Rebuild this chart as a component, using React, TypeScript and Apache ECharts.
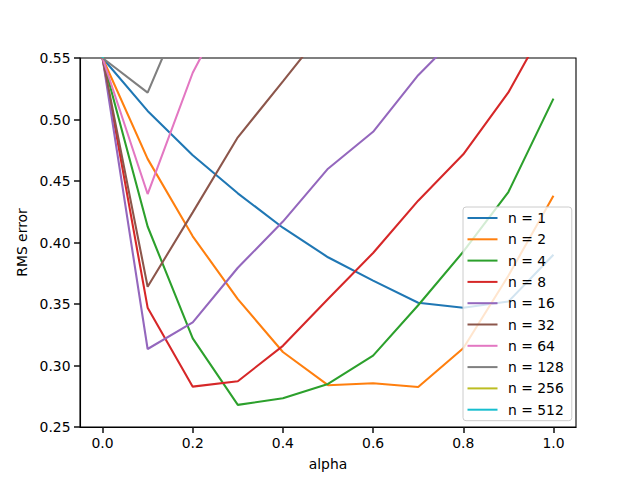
import React, { useEffect, useRef } from "react";
import * as echarts from "echarts";

const alphas = [0, 0.1, 0.2, 0.3, 0.4, 0.5, 0.6, 0.7, 0.8, 0.9, 1.0];
const seriesNames = ["n = 1", "n = 2", "n = 4", "n = 8", "n = 16", "n = 32", "n = 64", "n = 128", "n = 256", "n = 512"];
const n1 = [0.55, 0.507, 0.471, 0.44, 0.412, 0.388, 0.369, 0.351, 0.347, 0.352, 0.39];
const n2 = [0.55, 0.468, 0.405, 0.354, 0.311, 0.284, 0.2855, 0.2825, 0.314, 0.373, 0.438];
const n4 = [0.55, 0.413, 0.322, 0.268, 0.2733, 0.285, 0.308, 0.349, 0.3925, 0.441, 0.517];
const n8 = [0.55, 0.347, 0.2828, 0.2872, 0.316, 0.354, 0.3915, 0.434, 0.4717, 0.522, 0.588];
const n16 = [0.55, 0.3134, 0.335, 0.3795, 0.417, 0.46, 0.49, 0.536, 0.573, 0.61, 0.65];
const n32 = [0.55, 0.364, 0.4245, 0.4855, 0.531, 0.577, 0.62, 0.66, 0.7, 0.74, 0.78];
const n64 = [0.55, 0.4394, 0.538, 0.608, 0.67, 0.72, 0.77, 0.81, 0.85, 0.89, 0.93];
const n128 = [0.55, 0.5218, 0.608, 0.68, 0.74, 0.79, 0.84, 0.88, 0.92, 0.96, 1.0];
const n256 = [0.55, 0.62, 0.7, 0.77, 0.83, 0.88, 0.93, 0.97, 1.01, 1.05, 1.09];
const n512 = [0.55, 0.7, 0.8, 0.87, 0.93, 0.98, 1.03, 1.07, 1.11, 1.15, 1.19];
const allValues = [n1, n2, n4, n8, n16, n32, n64, n128, n256, n512];
const xTicks = [0, 0.2, 0.4, 0.6, 0.8, 1.0];
const yTicks = [0.25, 0.3, 0.35, 0.4, 0.45, 0.5, 0.55];
const colors = ["#1f77b4", "#ff7f0e", "#2ca02c", "#d62728", "#9467bd", "#8c564b", "#e377c2", "#7f7f7f", "#bcbd22", "#17becf"];

const FONT = "DejaVu Sans";

export default function App() {
  const ref = useRef<HTMLDivElement>(null);
  useEffect(() => {
    document.body.style.margin = "0";
    const chart = echarts.init(ref.current!, null, { renderer: "svg" });
    chart.setOption({
      animation: false,
      color: colors,
      textStyle: { fontFamily: FONT },
      grid: {
        left: 80,
        top: 58,
        width: 496,
        height: 369,
        show: true,
        borderColor: "#000",
        borderWidth: 1.1,
        backgroundColor: "transparent",
      },
      xAxis: {
        type: "value",
        min: -0.05,
        max: 1.05,
        name: "alpha",
        nameLocation: "middle",
        nameGap: 30,
        nameTextStyle: { fontSize: 13.9, color: "#000", fontFamily: FONT },
        axisLine: { show: true, onZero: false, lineStyle: { color: "#000", width: 1.1 } },
        splitLine: { show: false },
        axisTick: { show: true, inside: false, length: 6, lineStyle: { color: "#111111", width: 1.5 }, customValues: xTicks },
        axisLabel: {
          fontSize: 13.9,
          color: "#000",
          fontFamily: FONT,
          margin: 9,
          customValues: xTicks,
          formatter: (v: number) => v.toFixed(1),
        },
      },
      yAxis: {
        type: "value",
        min: 0.25,
        max: 0.55,
        name: "RMS error",
        nameLocation: "middle",
        nameGap: 47,
        nameTextStyle: { fontSize: 13.9, color: "#000", fontFamily: FONT },
        axisLine: { show: true, onZero: false, lineStyle: { color: "#000", width: 1.1 } },
        splitLine: { show: false },
        axisTick: { show: true, inside: false, length: 6, lineStyle: { color: "#111111", width: 1.5 }, customValues: yTicks },
        axisLabel: {
          fontSize: 13.9,
          color: "#000",
          fontFamily: FONT,
          margin: 9.5,
          customValues: yTicks,
          formatter: (v: number) => v.toFixed(2),
        },
      },
      legend: {
        orient: "vertical",
        left: 463,
        top: 207,
        data: seriesNames,
        icon: "rect",
        itemWidth: 30,
        itemHeight: 2,
        itemGap: 7.3,
        padding: [4, 8, 4, 4.5],
        backgroundColor: "rgba(255,255,255,0.8)",
        borderColor: "#cccccc",
        borderWidth: 1,
        borderRadius: 3,
        textStyle: { fontSize: 13.9, color: "#000", fontFamily: FONT, lineHeight: 14, padding: [0, 0, 0, 5.5] },
      },
      series: allValues.map((vals, i) => ({
        name: seriesNames[i],
        type: "line",
        symbol: "none",
        clip: true,
        lineStyle: { width: 2.08, color: colors[i] },
        itemStyle: { color: colors[i] },
        data: alphas.map((a, j) => [a, vals[j]]),
        z: 2 + i * 0.01,
      })),
    });
    return () => chart.dispose();
  }, []);
  return <div ref={ref} style={{ width: 640, height: 480 }} />;
}
